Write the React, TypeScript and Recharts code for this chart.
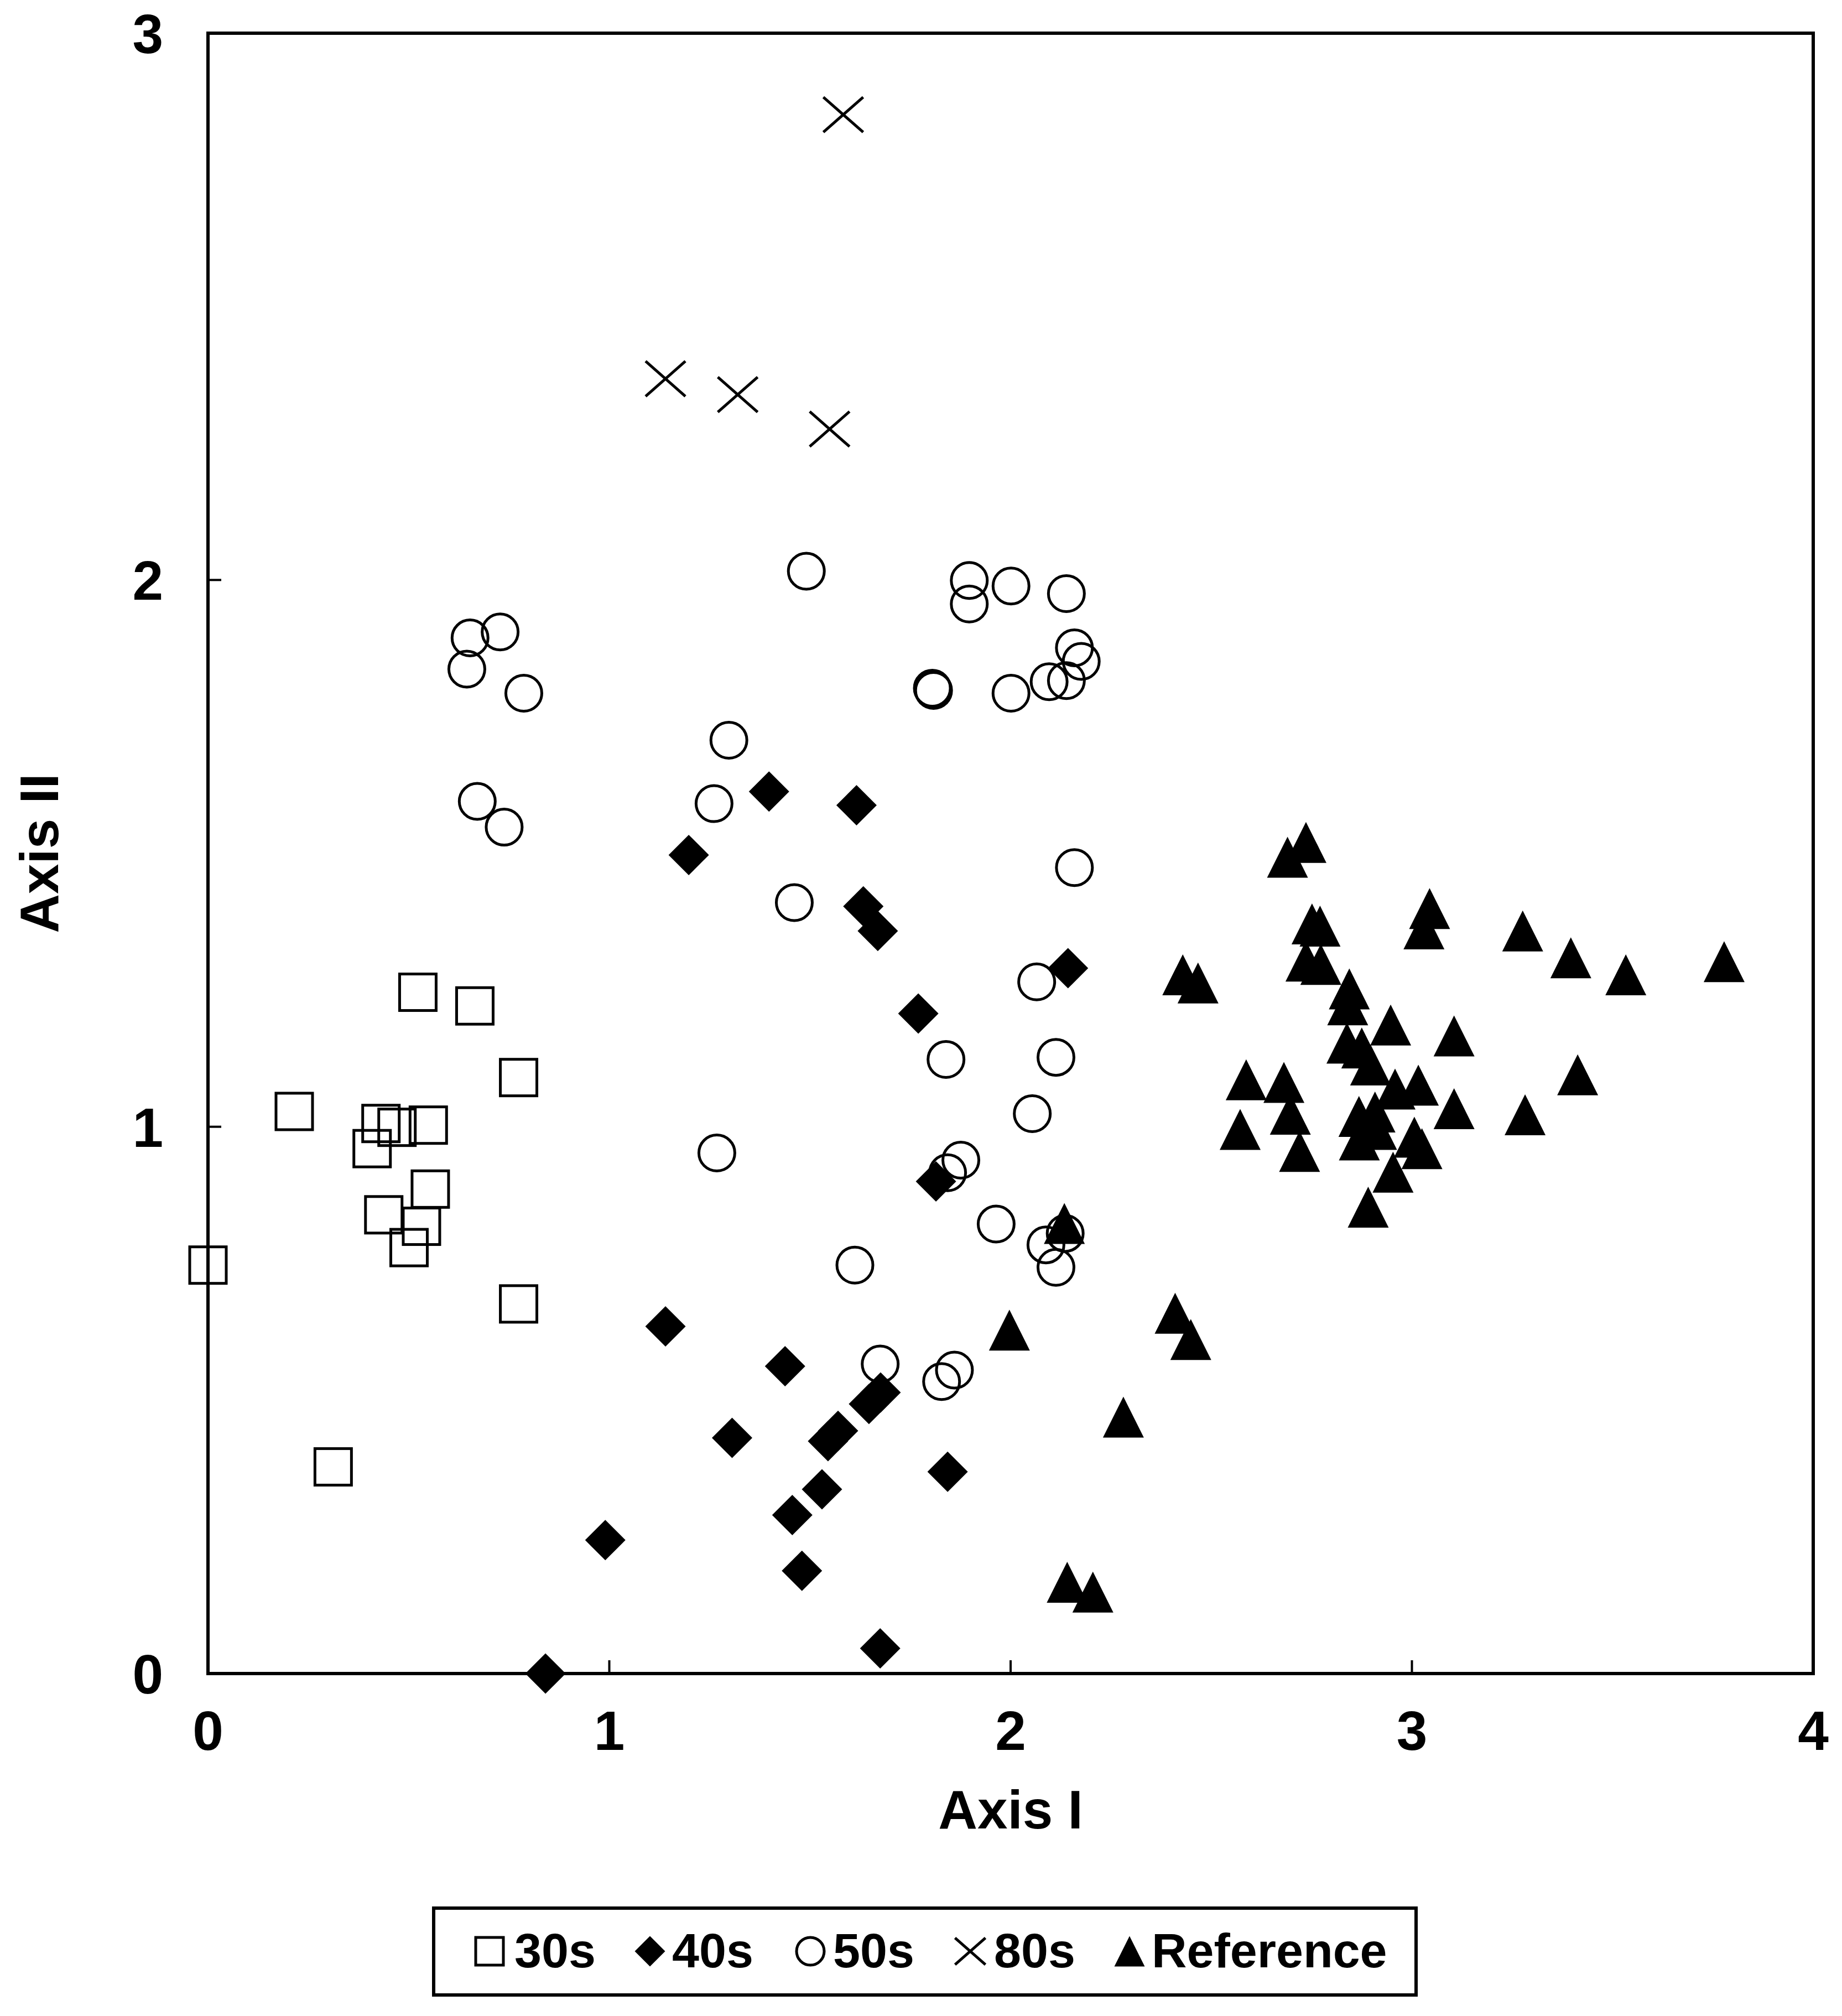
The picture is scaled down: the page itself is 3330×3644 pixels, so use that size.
import React from 'react';
import { ScatterChart, Scatter, XAxis, YAxis, ReferenceArea, Legend } from 'recharts';

const FONT = '"Liberation Sans", Arial, Helvetica, sans-serif';

// ---- data ----
const xTicks = [0, 1, 2, 3, 4];
const yTicks = [0, 1, 2, 3];
const seriesNames = ['30s', '40s', '50s', '80s', 'Reference'];

const pts30s: [number, number][] = [
  [0.523, 1.246], [0.665, 1.221], [0.774, 1.09], [0.215, 1.028], [0.431, 1.006],
  [0.471, 0.999], [0.549, 1.003], [0.409, 0.96], [0.554, 0.886], [0.438, 0.839],
  [0.532, 0.818], [0.501, 0.779], [0.0, 0.747], [0.774, 0.676], [0.312, 0.378],
];

const pts40s: [number, number][] = [
  [1.398, 1.613], [1.616, 1.588], [1.198, 1.497], [1.633, 1.403], [1.669, 1.358],
  [2.143, 1.29], [1.77, 1.207], [1.814, 0.9], [1.14, 0.635], [1.438, 0.562],
  [1.306, 0.431], [1.53, 0.337], [1.456, 0.29], [1.843, 0.369], [0.99, 0.244],
  [1.48, 0.188], [1.675, 0.046], [1.545, 0.425], [1.57, 0.444], [1.647, 0.493],
  [1.676, 0.514], [0.841, 0.0],
];

const pts50s: [number, number][] = [
  [0.653, 1.894], [0.728, 1.905], [0.645, 1.837], [0.787, 1.793], [0.671, 1.595],
  [0.738, 1.548], [1.491, 2.016], [1.897, 1.999], [1.897, 1.956], [2.001, 1.989],
  [2.139, 1.975], [1.805, 1.802], [1.808, 1.798], [2.001, 1.793], [2.159, 1.876],
  [2.176, 1.851], [2.096, 1.814], [2.139, 1.816], [1.298, 1.707], [1.261, 1.591],
  [2.159, 1.474], [1.461, 1.41], [2.065, 1.265], [1.839, 1.123], [2.113, 1.127],
  [2.054, 1.024], [1.268, 0.952], [1.876, 0.939], [1.843, 0.916], [1.964, 0.822],
  [2.088, 0.784], [2.136, 0.805], [2.113, 0.743], [1.612, 0.747], [1.675, 0.566],
  [1.86, 0.555], [1.828, 0.534],
];

const pts80s: [number, number][] = [
  [1.583, 2.851], [1.14, 2.368], [1.32, 2.339], [1.549, 2.276],
];

const ptsRef: [number, number][] = [
  [2.736, 1.52], [2.69, 1.493], [3.044, 1.399], [3.03, 1.362], [3.276, 1.358],
  [3.396, 1.309], [3.533, 1.278], [3.778, 1.302], [2.429, 1.278], [2.467, 1.263],
  [2.751, 1.371], [2.771, 1.367], [2.736, 1.303], [2.773, 1.297], [2.844, 1.252],
  [2.84, 1.223], [2.947, 1.186], [3.105, 1.166], [2.838, 1.153], [2.875, 1.144],
  [2.897, 1.113], [2.958, 1.069], [3.016, 1.076], [3.105, 1.033], [2.587, 1.086],
  [2.681, 1.081], [2.697, 1.023], [2.572, 0.995], [2.72, 0.955], [2.869, 0.976],
  [2.868, 1.019], [3.025, 0.96], [3.006, 0.981], [2.912, 0.995], [2.908, 1.027],
  [2.953, 0.917], [2.891, 0.853], [3.282, 1.022], [3.413, 1.095], [2.134, 0.823],
  [1.997, 0.628], [2.41, 0.659], [2.449, 0.611], [2.281, 0.469], [2.141, 0.167],
  [2.205, 0.149],
];

// ---- layout ----
const W = 3330;
const H = 3644;
const M = { top: 60, right: 52, bottom: 419, left: 176 };
const Y_AXIS_W = 200;
const X_AXIS_H = 200;
const PLOT_LEFT = M.left + Y_AXIS_W;
const PLOT_BOTTOM = H - M.bottom - X_AXIS_H;
const PLOT_RIGHT = W - M.right;
const PLOT_TOP = M.top;

type Kind = 'square' | 'diamond' | 'circle' | 'cross' | 'triangle';
const kinds: Kind[] = ['square', 'diamond', 'circle', 'cross', 'triangle'];

function Marker({ kind, cx, cy, s }: { kind: Kind; cx: number; cy: number; s: number }) {
  const h = s / 2;
  const sw = 5;
  switch (kind) {
    case 'square':
      return <rect x={cx - h + 2.5} y={cy - h + 2.5} width={s - 5} height={s - 5} fill="none" stroke="#000" strokeWidth={sw} />;
    case 'diamond':
      return <polygon points={`${cx},${cy - h} ${cx + h},${cy} ${cx},${cy + h} ${cx - h},${cy}`} fill="#000" />;
    case 'circle':
      return <circle cx={cx} cy={cy} r={h - 2.5} fill="none" stroke="#000" strokeWidth={sw} />;
    case 'cross':
      return (
        <g stroke="#000" strokeWidth={sw}>
          <line x1={cx - h} y1={cy - h * 0.88} x2={cx + h} y2={cy + h * 0.88} />
          <line x1={cx - h} y1={cy + h * 0.88} x2={cx + h} y2={cy - h * 0.88} />
        </g>
      );
    case 'triangle':
    default:
      return <polygon points={`${cx},${cy - h} ${cx + h},${cy + h} ${cx - h},${cy + h}`} fill="#000" />;
  }
}

const makeShape = (kind: Kind, s: number) => (props: any) => {
  const { cx, cy } = props;
  if (cx == null || cy == null) return <g />;
  return <Marker kind={kind} cx={cx} cy={cy} s={s} />;
};

const toObjs = (arr: [number, number][]) => arr.map(([x, y]) => ({ x, y }));
const allSeries = [pts30s, pts40s, pts50s, pts80s, ptsRef];
const markerSizes = [71, 73, 70, 72, 74];

const XTick = (props: any) => {
  const { x, y, payload } = props;
  return (
    <g>
      <line x1={x} x2={x} y1={y} y2={y - 24} stroke="#000" strokeWidth={4} />
      <text x={x} y={y + 138} textAnchor="middle" fontFamily={FONT} fontWeight="bold" fontSize={100} fill="#000">
        {payload.value}
      </text>
    </g>
  );
};

const YTick = (props: any) => {
  const { x, y, payload } = props;
  return (
    <g>
      <line x1={x} x2={x + 24} y1={y} y2={y} stroke="#000" strokeWidth={4} />
      <text x={x - 81} y={y + 36} textAnchor="end" fontFamily={FONT} fontWeight="bold" fontSize={100} fill="#000">
        {payload.value}
      </text>
    </g>
  );
};

const XTitle = () => (
  <text x={(PLOT_LEFT + PLOT_RIGHT) / 2} y={PLOT_BOTTOM + 280} textAnchor="middle" fontFamily={FONT} fontWeight="bold" fontSize={98} fill="#000">
    Axis I
  </text>
);

const YTitle = () => {
  const cx = 105;
  const cy = (PLOT_TOP + PLOT_BOTTOM) / 2;
  return (
    <text x={cx} y={cy} transform={`rotate(-90 ${cx} ${cy})`} textAnchor="middle" fontFamily={FONT} fontWeight="bold" fontSize={98} fill="#000">
      Axis II
    </text>
  );
};

const LEG_LEFT = 781;
const LEG_TOP = 3446;
const LEG_W = 1782;
const LEG_H = 163;
const legIconX = [104, 394, 684, 973, 1261];
const legTextX = [149, 434, 725, 1016, 1301];

const LegendBox = () => (
  <svg width={LEG_W} height={LEG_H} style={{ display: 'block' }}>
    <rect x={3} y={3} width={LEG_W - 6} height={LEG_H - 6} fill="#fff" stroke="#000" strokeWidth={6} />
    {seriesNames.map((name, i) => (
      <g key={name}>
        <Marker kind={kinds[i]} cx={legIconX[i]} cy={81} s={55} />
        <text x={legTextX[i]} y={110} fontFamily={FONT} fontWeight="bold" fontSize={88} fill="#000">
          {name}
        </text>
      </g>
    ))}
  </svg>
);

export default function App() {
  return (
    <div style={{ position: 'absolute', left: 0, top: 0, width: W, height: H, background: '#fff' }}>
      <ScatterChart width={W} height={H} margin={M}>
        <ReferenceArea x1={0} x2={4} y1={0} y2={3} fill="none" fillOpacity={0} stroke="#000" strokeWidth={6} />
        <XAxis
          type="number"
          dataKey="x"
          domain={[0, 4]}
          ticks={xTicks}
          interval={0}
          height={X_AXIS_H}
          tickSize={0}
          tickMargin={0}
          tickLine={false}
          axisLine={{ stroke: '#000', strokeWidth: 6 }}
          tick={(p: any) => <XTick {...p} />}
          label={<XTitle />}
        />
        <YAxis
          type="number"
          dataKey="y"
          domain={[0, 3]}
          ticks={yTicks}
          interval={0}
          width={Y_AXIS_W}
          tickSize={0}
          tickMargin={0}
          tickLine={false}
          axisLine={{ stroke: '#000', strokeWidth: 6 }}
          tick={(p: any) => <YTick {...p} />}
          label={<YTitle />}
        />
        {allSeries.map((pts, i) => (
          <Scatter
            key={seriesNames[i]}
            name={seriesNames[i]}
            data={toObjs(pts)}
            shape={makeShape(kinds[i], markerSizes[i])}
            isAnimationActive={false}
          />
        ))}
        <Legend
          layout="horizontal"
          verticalAlign="middle"
          align="center"
          content={() => <LegendBox />}
          wrapperStyle={{ left: LEG_LEFT, top: LEG_TOP, width: LEG_W, height: LEG_H }}
        />
      </ScatterChart>
    </div>
  );
}
